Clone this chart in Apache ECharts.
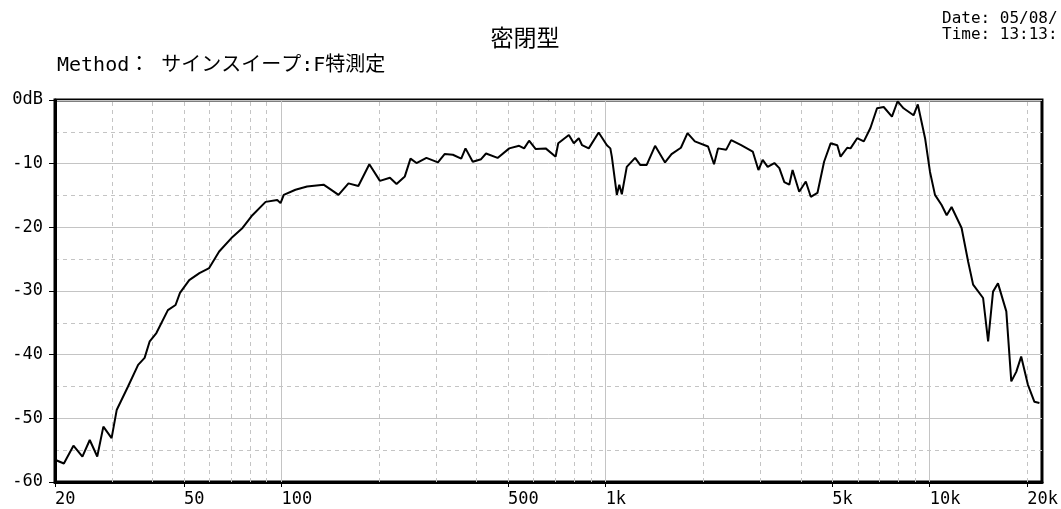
<!DOCTYPE html>
<html>
<head>
<meta charset="utf-8">
<script src="https://cdn.jsdelivr.net/npm/echarts@6/dist/echarts.min.js"></script>
<style>
html,body{margin:0;padding:0;background:#fff;}
#chart{width:1061px;height:509px;}
</style>
</head>
<body>
<div id="chart"></div>
<script>
// Frequency response (Hz) and level (dB)
const freqs = [20, 21.3, 22.8, 24.3, 25.6, 27.0, 28.2, 29.9, 31.0, 33.6, 36.1, 37.8, 39.2, 41.1, 44.6, 47.1, 48.6, 51.9, 55.8, 59.8, 64.2, 70.6, 75.8, 81.3, 89.3, 97.0, 99.3, 101.6, 110.4,
  119.9, 134.8, 141.3, 149.9, 160.9, 172.6, 186.6, 201.2, 216.0, 226.4, 240.1, 250, 260.9, 279.9, 303.8, 318.5, 337.8, 358.4, 369.5, 389.0, 412.8, 427.6, 464.1, 504.2, 540.9, 560.4, 580.5, 608.6, 653.1, 701.1, 714.1, 770.1, 797.7, 826.4, 845.9, 887.0, 951.7, 1009, 1034, 1045, 1083, 1102, 1122,
  1162, 1233, 1278, 1339, 1421, 1525, 1597, 1707, 1789, 1885, 2070, 2160, 2222, 2356, 2440, 2619, 2844, 2961, 3052, 3162, 3316, 3435, 3559, 3687, 3774, 3956, 4146, 4295, 4503, 4721, 4946, 5185, 5307, 5565, 5696, 5972, 6261, 6561, 6877, 7211, 7645, 7960, 8304, 8913, 9188, 9674,
  10020, 10380, 10880, 11280, 11680, 12540, 13140, 13610, 14610, 15140, 15680, 16240, 17230, 17850, 18490, 19150, 20080, 21040, 21800];
const levels = [-56.5, -57.1, -54.3, -56.0, -53.4, -56.0, -51.3, -53.1, -48.7, -45.0, -41.6, -40.5, -37.9, -36.6, -33.0, -32.2, -30.3, -28.3, -27.2, -26.4, -23.8, -21.5, -20.1, -18.1, -16.0, -15.7, -16.2, -14.9, -14.1,
  -13.6, -13.3, -14.0, -14.9, -13.1, -13.5, -10.1, -12.7, -12.2, -13.2, -12.0, -9.2, -9.9, -9.1, -9.8, -8.5, -8.6, -9.2, -7.6, -9.7, -9.3, -8.4, -9.1, -7.6, -7.2, -7.6, -6.4, -7.7, -7.6, -8.9, -6.8, -5.5, -6.8, -6.0, -7.1, -7.6, -5.1, -7.1, -7.6, -8.9, -14.9, -13.3, -14.8,
  -10.5, -9.1, -10.2, -10.2, -7.2, -9.8, -8.5, -7.5, -5.2, -6.5, -7.3, -10.1, -7.6, -7.8, -6.3, -7.1, -8.1, -11.0, -9.4, -10.5, -9.9, -10.7, -12.9, -13.3, -11.0, -14.4, -12.8, -15.2, -14.6, -9.7, -6.8, -7.1, -8.9, -7.5, -7.6, -6.0, -6.5, -4.4, -1.3, -1.1, -2.6, -0.2, -1.3, -2.4, -0.7, -6.0,
  -11.3, -14.9, -16.5, -18.1, -16.8, -20.1, -25.4, -29.0, -31.1, -37.9, -30.1, -28.8, -33.2, -44.2, -42.7, -40.3, -44.7, -47.4, -47.6];
const xLabelValues = [20, 50, 100, 500, 1000, 5000, 10000, 20000];
const solidGridX = [100, 1000, 10000];
const dashedGridX = [30, 40, 50, 60, 70, 80, 90, 200, 300, 400, 500, 600, 700, 800, 900, 2000, 3000, 4000, 5000, 6000, 7000, 8000, 9000, 20000];
const titleText = '密閉型';
const methodText = 'Method： サインスイープ:F特測定';
const dateText = 'Date: 05/08/';
const timeText = 'Time: 13:13:';

const MONO = '"DejaVu Sans Mono", "Noto Sans CJK JP", monospace';
const chart = echarts.init(document.getElementById('chart'));
const gridMarks = solidGridX.map(v => ({xAxis: v, lineStyle: {type: 'solid'}}))
  .concat(dashedGridX.map(v => ({xAxis: v, lineStyle: {type: [4, 4]}})));

chart.setOption({
  animation: false,
  backgroundColor: '#fff',
  title: [
    {text: titleText, left: 520, top: 21, textAlign: 'center',
     textStyle: {fontFamily: '"Noto Sans CJK JP"', fontSize: 23, fontWeight: 'normal', color: '#000'}},
    {text: methodText, left: 52, top: 51,
     textStyle: {fontFamily: MONO, fontSize: 20, fontWeight: 'normal', color: '#000'}},
    {text: dateText + '\n' + timeText, left: 937, top: 6,
     textStyle: {fontFamily: MONO, fontSize: 16, fontWeight: 'normal', color: '#000', lineHeight: 16}}
  ],
  grid: {left: 55, top: 100, width: 991, height: 382, show: true, borderColor: '#000', borderWidth: 3, backgroundColor: 'transparent'},
  xAxis: {
    type: 'log', logBase: 10, min: 20, max: 22200,
    axisLine: {show: true, onZero: false, lineStyle: {color: '#000', width: 3}},
    axisTick: {show: true, customValues: xLabelValues, length: 5, lineStyle: {color: '#000', width: 1}},
    axisLabel: {show: true, customValues: xLabelValues, margin: 9, align: 'left',
      fontFamily: MONO, fontSize: 17, color: '#000',
      formatter: v => v >= 1000 ? (v / 1000) + 'k' : String(v)},
    splitLine: {show: false},
    minorTick: {show: false}, minorSplitLine: {show: false}
  },
  yAxis: {
    type: 'value', min: -60, max: 0, interval: 10,
    axisLine: {show: true, onZero: false, lineStyle: {color: '#000', width: 3}},
    axisTick: {show: true, length: 6, lineStyle: {color: '#000', width: 1}},
    axisLabel: {margin: 12, fontFamily: MONO, fontSize: 17, color: '#000',
      formatter: v => v === 0 ? '0dB' : String(v)},
    splitLine: {show: true, lineStyle: {color: '#c4c4c4', width: 1, type: 'solid'}},
    minorTick: {show: false, splitNumber: 2},
    minorSplitLine: {show: true, lineStyle: {color: '#c4c4c4', width: 1, type: [4, 4]}}
  },
  series: [{
    type: 'line',
    data: freqs.map((f, i) => [f, levels[i]]),
    showSymbol: false,
    symbol: 'none',
    lineStyle: {color: '#000', width: 2},
    z: 5,
    markLine: {
      silent: true, symbol: 'none', animation: false,
      label: {show: false},
      lineStyle: {color: '#c4c4c4', width: 1},
      data: gridMarks,
      z: 1
    }
  }]
});
</script>
</body>
</html>
